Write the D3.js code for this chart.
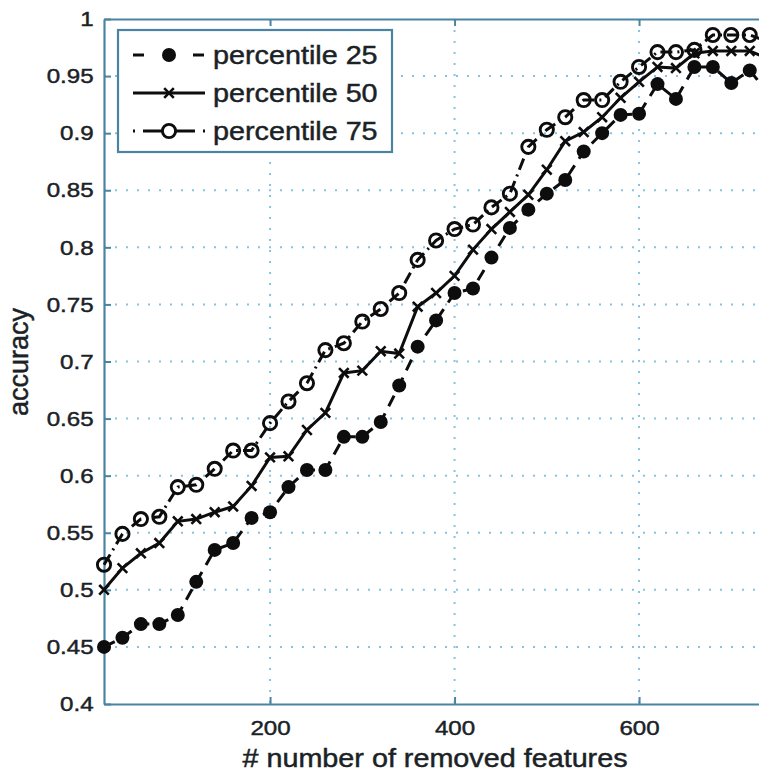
<!DOCTYPE html>
<html>
<head>
<meta charset="utf-8">
<script src="https://cdn.jsdelivr.net/npm/d3@7"></script>
<style>
  html, body { margin: 0; padding: 0; background: #fff; }
  svg { display: block; }
</style>
</head>
<body>
<svg id="chart" width="759" height="775"></svg>
<script>
// ---- data ----
const xValues = [20, 40, 60, 80, 100, 120, 140, 160, 180, 200, 220, 240, 260, 280, 300, 320, 340, 360, 380,
                 400, 420, 440, 460, 480, 500, 520, 540, 560, 580, 600, 620, 640, 660, 680, 700, 720, 740];
const p25 = [0.450, 0.458, 0.470, 0.470, 0.478, 0.507, 0.535, 0.541, 0.563, 0.568, 0.590, 0.605, 0.605,
             0.634, 0.634, 0.647, 0.679, 0.713, 0.736, 0.760, 0.764, 0.791, 0.817, 0.833, 0.847, 0.859,
             0.884, 0.900, 0.916, 0.917, 0.943, 0.930, 0.958, 0.958, 0.944, 0.955, 0.935];
const p50 = [0.500, 0.519, 0.532, 0.541, 0.560, 0.562, 0.568, 0.573, 0.591, 0.616, 0.617, 0.640, 0.655,
             0.690, 0.692, 0.709, 0.707, 0.748, 0.760, 0.775, 0.798, 0.816, 0.831, 0.846, 0.868, 0.893,
             0.901, 0.914, 0.931, 0.945, 0.958, 0.957, 0.970, 0.972, 0.972, 0.972, 0.965];
const p75 = [0.522, 0.549, 0.562, 0.564, 0.590, 0.592, 0.606, 0.622, 0.622, 0.646, 0.665, 0.681, 0.710,
             0.716, 0.735, 0.746, 0.760, 0.789, 0.806, 0.816, 0.820, 0.835, 0.847, 0.888, 0.903, 0.914,
             0.929, 0.929, 0.945, 0.958, 0.971, 0.971, 0.973, 0.986, 0.986, 0.986, 0.980];
const seriesNames = ["percentile 25", "percentile 50", "percentile 75"];
const xTicks = [200, 400, 600];
const xTickLabels = ["200", "400", "600"];
const yTicks = [0.4, 0.45, 0.5, 0.55, 0.6, 0.65, 0.7, 0.75, 0.8, 0.85, 0.9, 0.95, 1];
const yTickLabels = ["0.4", "0.45", "0.5", "0.55", "0.6", "0.65", "0.7", "0.75", "0.8", "0.85", "0.9", "0.95", "1"];
const xTitle = "# number of removed features";
const yTitle = "accuracy";

// ---- layout / style ----
const FONT = "'Liberation Sans', Arial, Helvetica, sans-serif";
const SX = 1.15;              // horizontal stretch of the reference text
const axisColor = "#4a84a2";
const textColor = "#1a2226";
const gridColor = "#86c3e3";
const ink = "#0d0d0d";
const LW = 3;
const plotLeft = 104, plotTop = 19, plotBottom = 704;

const svg = d3.select("#chart");
const x = d3.scaleLinear().domain([20, 760]).range([plotLeft, plotLeft + 740 * 0.9225]);
const y = d3.scaleLinear().domain([0.4, 1]).range([plotBottom, plotTop]);
const xRight = x.range()[1];

function textStyle(sel, size) {
  sel.attr("fill", textColor).attr("font-family", FONT).attr("font-size", size)
    .attr("stroke", textColor).attr("stroke-width", 0.45);
}

// grid
const grid = svg.append("g");
grid.selectAll("line.h").data(yTicks.filter(d => d > 0.4 && d < 1)).join("line")
  .attr("x1", plotLeft).attr("x2", xRight).attr("y1", d => y(d)).attr("y2", d => y(d))
  .attr("stroke", gridColor).attr("stroke-width", 2).attr("stroke-dasharray", "2,9");
grid.selectAll("line.v").data(xTicks).join("line")
  .attr("x1", d => x(d)).attr("x2", d => x(d)).attr("y1", plotTop).attr("y2", plotBottom)
  .attr("stroke", gridColor).attr("stroke-width", 2).attr("stroke-dasharray", "2,9");

// axes
function styleAxis(g) {
  g.select(".domain").attr("stroke", axisColor).attr("stroke-width", 2.2);
  g.selectAll(".tick line").attr("stroke", axisColor).attr("stroke-width", 2);
  g.selectAll("text").call(textStyle, 21).attr("transform", `scale(${SX},1)`);
}
const yAxis = d3.axisLeft(y).tickValues(yTicks).tickFormat((d, i) => yTickLabels[i])
  .tickSizeInner(-7).tickSizeOuter(0).tickPadding(9);
svg.append("g").attr("transform", `translate(${plotLeft},0)`).call(yAxis).call(styleAxis);

const xAxis = d3.axisBottom(x).tickValues(xTicks).tickFormat((d, i) => xTickLabels[i])
  .tickSizeInner(-7).tickSizeOuter(0).tickPadding(16);
svg.append("g").attr("transform", `translate(0,${plotBottom})`).call(xAxis).call(styleAxis);

const xAxisTop = d3.axisTop(x).tickValues(xTicks).tickFormat("").tickSizeInner(-7).tickSizeOuter(0);
svg.append("g").attr("transform", `translate(0,${plotTop})`).call(xAxisTop).call(styleAxis);

// titles
svg.append("text").attr("transform", `translate(435,767) scale(${SX},1)`)
  .attr("text-anchor", "middle").call(textStyle, 25).text(xTitle);
svg.append("text").attr("transform", "translate(28,362) rotate(-90)")
  .attr("text-anchor", "middle").call(textStyle, 27).text(yTitle);

// series
const series = [
  { name: seriesNames[0], values: p25, dash: "12,8", marker: "dot" },
  { name: seriesNames[1], values: p50, dash: null, marker: "x" },
  { name: seriesNames[2], values: p75, dash: "12,5,2,5", marker: "circle" }
];
const line = d3.line().x((d, i) => x(xValues[i])).y(d => y(d));

function drawMarker(g, type, cx, cy, fill) {
  if (type === "dot") {
    g.append("circle").attr("cx", cx).attr("cy", cy).attr("r", 7).attr("fill", ink);
  } else if (type === "circle") {
    g.append("circle").attr("cx", cx).attr("cy", cy).attr("r", 6.6)
      .attr("fill", fill || "none").attr("stroke", ink).attr("stroke-width", 2.9);
  } else {
    const s = 4.8;
    g.append("path").attr("d", `M${cx - s},${cy - s}L${cx + s},${cy + s}M${cx - s},${cy + s}L${cx + s},${cy - s}`)
      .attr("stroke", ink).attr("stroke-width", 2.6).attr("fill", "none");
  }
}

const dataG = svg.append("g");
series.forEach(s => {
  const g = dataG.append("g");
  g.append("path").datum(s.values).attr("d", line)
    .attr("fill", "none").attr("stroke", ink).attr("stroke-width", LW)
    .attr("stroke-dasharray", s.dash);
  s.values.forEach((v, i) => drawMarker(g, s.marker, x(xValues[i]), y(v)));
});

// legend
const lg = svg.append("g");
lg.append("rect").attr("x", 118).attr("y", 30).attr("width", 274).attr("height", 122)
  .attr("fill", "#fff").attr("stroke", axisColor).attr("stroke-width", 2.2);
const rowY = [55, 93, 131];
function seg(g, x1, x2, yy) {
  g.append("line").attr("x1", x1).attr("x2", x2).attr("y1", yy).attr("y2", yy)
    .attr("stroke", ink).attr("stroke-width", LW);
}
series.forEach((s, i) => {
  const yy = rowY[i];
  const g = lg.append("g");
  if (s.marker === "dot") {
    seg(g, 133, 144, yy); seg(g, 193, 204, yy);
  } else if (s.marker === "x") {
    seg(g, 133, 205, yy);
  } else {
    seg(g, 133, 135, yy); seg(g, 143, 195, yy); seg(g, 203, 205, yy);
  }
  drawMarker(g, s.marker, 169, yy, "#fff");
  g.append("text").attr("transform", `translate(213,${yy}) scale(${SX},1)`)
    .attr("dy", "0.36em").call(textStyle, 25).text(s.name);
});
</script>
</body>
</html>
